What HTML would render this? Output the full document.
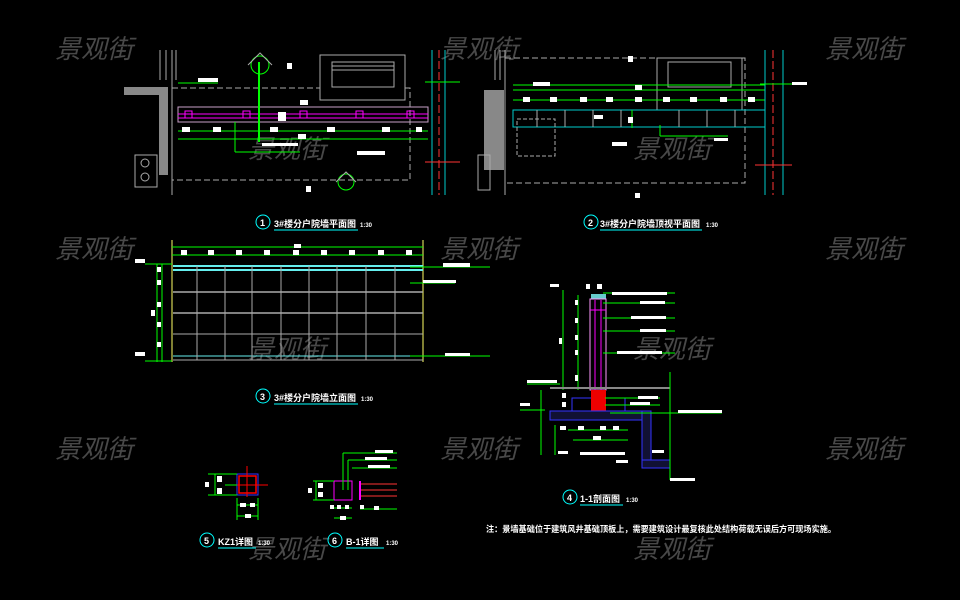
<!DOCTYPE html>
<html><head><meta charset="utf-8"><style>
html,body{margin:0;padding:0;background:#000;width:960px;height:600px;overflow:hidden}
svg{display:block}
.t{font-family:"Liberation Sans","Noto Sans CJK SC",sans-serif;fill:#fff;font-weight:bold}
.wm{font-family:"Liberation Sans","Noto Sans CJK SC",sans-serif;fill:#5a5a5a;font-size:26px;font-style:italic;opacity:.8}
</style></head><body>
<svg width="960" height="600" viewBox="0 0 960 600" xmlns="http://www.w3.org/2000/svg">
<rect width="960" height="600" fill="#000"/>
<g class="wm">
<text x="55" y="58">景观街</text><text x="440" y="58">景观街</text><text x="825" y="58">景观街</text>
<text x="248" y="158">景观街</text><text x="633" y="158">景观街</text>
<text x="55" y="258">景观街</text><text x="440" y="258">景观街</text><text x="825" y="258">景观街</text>
<text x="248" y="358">景观街</text><text x="633" y="358">景观街</text>
<text x="55" y="458">景观街</text><text x="440" y="458">景观街</text><text x="825" y="458">景观街</text>
<text x="248" y="558">景观街</text><text x="633" y="558">景观街</text>
</g>

<!-- PLAN 1 -->
<g fill="none" stroke-width="1">
<rect x="124" y="87" width="44" height="8" fill="#888"/>
<rect x="159" y="87" width="9" height="88" fill="#888"/>
<line x1="172" y1="50" x2="172" y2="195" stroke="#aaa"/>
<line x1="160" y1="50" x2="160" y2="80" stroke="#aaa"/><line x1="166" y1="50" x2="166" y2="80" stroke="#aaa"/><line x1="176" y1="50" x2="176" y2="80" stroke="#aaa"/>
<rect x="135" y="155" width="22" height="32" stroke="#aaa"/>
<circle cx="145" cy="163" r="4" stroke="#aaa"/><circle cx="145" cy="177" r="4" stroke="#aaa"/>
<path d="M172 88 H320 M405 88 H410 V180 H172" stroke="#aaa" stroke-dasharray="6 3"/>
<rect x="320" y="55" width="85" height="45" stroke="#aaa"/>
<rect x="332" y="62" width="62" height="25" stroke="#aaa"/>
<line x1="332" y1="66" x2="394" y2="66" stroke="#aaa"/><line x1="332" y1="70" x2="394" y2="70" stroke="#aaa"/>
<rect x="178" y="107" width="250" height="15" stroke="#c8a0c8"/>
<line x1="178" y1="114" x2="428" y2="114" stroke="#f0f"/>
<line x1="178" y1="118" x2="428" y2="118" stroke="#f0f"/>
<g stroke="#f0f"><rect x="185" y="111" width="7" height="7"/><rect x="243" y="111" width="7" height="7"/><rect x="300" y="111" width="7" height="7"/><rect x="356" y="111" width="7" height="7"/><rect x="407" y="111" width="7" height="7"/></g>
<line x1="178" y1="131" x2="428" y2="131" stroke="#0f0"/>
<line x1="178" y1="139" x2="428" y2="139" stroke="#0f0"/>
<line x1="178" y1="83" x2="218" y2="83" stroke="#0f0"/>
<line x1="259" y1="62" x2="259" y2="142" stroke="#0f0" stroke-width="2"/>
<circle cx="260" cy="65" r="9" stroke="#0f0"/>
<path d="M248 65 L260 53 L272 65" stroke="#aaa"/>
<circle cx="346" cy="182" r="8" stroke="#0f0"/>
<path d="M336 182 L346 172 L356 182" stroke="#aaa"/>
<line x1="235" y1="152" x2="300" y2="152" stroke="#0f0"/>
<line x1="235" y1="122" x2="235" y2="152" stroke="#0f0"/>
<line x1="432" y1="50" x2="432" y2="195" stroke="#0cc"/><line x1="445" y1="50" x2="445" y2="195" stroke="#0cc"/>
<line x1="439" y1="50" x2="439" y2="195" stroke="#f33" stroke-dasharray="8 3"/>
<line x1="425" y1="82" x2="460" y2="82" stroke="#0f0"/>
<line x1="425" y1="162" x2="460" y2="162" stroke="#f33"/>
</g>
<g fill="#fff">
<rect x="198" y="78" width="20" height="4"/><rect x="287" y="63" width="5" height="6"/><rect x="300" y="100" width="8" height="5"/>
<rect x="278" y="112" width="8" height="9"/><rect x="182" y="127" width="8" height="5"/><rect x="213" y="127" width="8" height="5"/><rect x="270" y="127" width="8" height="5"/><rect x="327" y="127" width="8" height="5"/><rect x="382" y="127" width="8" height="5"/><rect x="416" y="127" width="6" height="5"/>
<rect x="298" y="134" width="8" height="5"/><rect x="357" y="151" width="28" height="4"/><rect x="306" y="186" width="5" height="6"/><rect x="262" y="143" width="36" height="3"/>
</g>
<circle cx="263" cy="222" r="7" stroke="#0ff" fill="none"/>
<text x="260" y="226" class="t" font-size="9">1</text>
<text x="274" y="227" class="t" font-size="9">3#楼分户院墙平面图</text>
<text x="360" y="227" class="t" font-size="6">1:30</text>
<line x1="274" y1="230" x2="358" y2="230" stroke="#0ff"/>

<!-- PLAN 2 -->
<g fill="none">
<rect x="484" y="90" width="20" height="80" fill="#888"/>
<rect x="478" y="155" width="12" height="35" stroke="#aaa"/>
<line x1="505" y1="50" x2="505" y2="195" stroke="#aaa"/><line x1="495" y1="50" x2="495" y2="80" stroke="#aaa"/><line x1="500" y1="50" x2="500" y2="80" stroke="#aaa"/>
<path d="M505 58 H657 M742 58 H745 V183 H505" stroke="#aaa" stroke-dasharray="6 3"/>
<rect x="657" y="58" width="85" height="52" stroke="#aaa"/>
<rect x="668" y="62" width="63" height="25" stroke="#aaa"/>
<line x1="513" y1="85" x2="765" y2="85" stroke="#0f0"/>
<line x1="513" y1="90" x2="765" y2="90" stroke="#0f0"/>
<line x1="513" y1="100" x2="765" y2="100" stroke="#0f0"/>
<rect x="513" y="110" width="252" height="17" stroke="#0cc"/>
<g stroke="#aaa"><line x1="537" y1="110" x2="537" y2="127"/><line x1="565" y1="110" x2="565" y2="127"/><line x1="593" y1="110" x2="593" y2="127"/><line x1="621" y1="110" x2="621" y2="127"/><line x1="679" y1="110" x2="679" y2="127"/><line x1="707" y1="110" x2="707" y2="127"/><line x1="735" y1="110" x2="735" y2="127"/></g>
<rect x="517" y="119" width="38" height="37" stroke="#aaa" stroke-dasharray="4 2"/>
<line x1="632" y1="110" x2="632" y2="128" stroke="#0f0"/>
<line x1="660" y1="125" x2="660" y2="136" stroke="#0f0"/><line x1="660" y1="136" x2="728" y2="136" stroke="#0f0"/>
<line x1="765" y1="50" x2="765" y2="195" stroke="#0cc"/><line x1="783" y1="50" x2="783" y2="195" stroke="#0cc"/>
<line x1="773" y1="50" x2="773" y2="195" stroke="#f33" stroke-dasharray="8 3"/>
<line x1="755" y1="165" x2="792" y2="165" stroke="#f33"/>
<line x1="760" y1="84" x2="800" y2="84" stroke="#0f0"/>
</g>
<g fill="#fff">
<rect x="533" y="82" width="17" height="4"/><rect x="628" y="56" width="5" height="6"/><rect x="635" y="85" width="7" height="5"/>
<rect x="523" y="97" width="7" height="5"/><rect x="550" y="97" width="7" height="5"/><rect x="580" y="97" width="7" height="5"/><rect x="606" y="97" width="7" height="5"/><rect x="635" y="97" width="7" height="5"/><rect x="663" y="97" width="7" height="5"/><rect x="690" y="97" width="7" height="5"/><rect x="720" y="97" width="7" height="5"/><rect x="748" y="97" width="7" height="5"/>
<rect x="594" y="115" width="9" height="4"/><rect x="628" y="117" width="5" height="6"/><rect x="612" y="142" width="15" height="4"/><rect x="714" y="138" width="14" height="3"/><rect x="635" y="193" width="5" height="5"/><rect x="792" y="82" width="15" height="3"/>
</g>
<circle cx="591" cy="222" r="7" stroke="#0ff" fill="none"/>
<text x="588" y="226" class="t" font-size="9">2</text>
<text x="600" y="227" class="t" font-size="9">3#楼分户院墙顶视平面图</text>
<text x="706" y="227" class="t" font-size="6">1:30</text>
<line x1="600" y1="230" x2="702" y2="230" stroke="#0ff"/>

<!-- ELEVATION 3 -->
<g fill="none">
<line x1="172" y1="240" x2="172" y2="362" stroke="#ff6"/>
<line x1="423" y1="240" x2="423" y2="362" stroke="#ff6"/>
<line x1="172" y1="247" x2="423" y2="247" stroke="#0f0"/>
<line x1="172" y1="255" x2="423" y2="255" stroke="#0f0"/>
<line x1="173" y1="266" x2="423" y2="266" stroke="#6ee" stroke-width="2"/>
<line x1="173" y1="270" x2="423" y2="270" stroke="#6ee" stroke-width="2"/>
<line x1="173" y1="292" x2="423" y2="292" stroke="#aaa" stroke-width="1.5"/>
<line x1="173" y1="313" x2="423" y2="313" stroke="#aaa" stroke-width="1.5"/>
<line x1="173" y1="334" x2="423" y2="334" stroke="#aaa"/>
<line x1="173" y1="356" x2="423" y2="356" stroke="#6ee"/>
<line x1="173" y1="360" x2="423" y2="360" stroke="#aaa"/>
<g stroke="#aaa"><line x1="197" y1="266" x2="197" y2="360"/><line x1="225" y1="266" x2="225" y2="360"/><line x1="252" y1="266" x2="252" y2="360"/><line x1="281" y1="266" x2="281" y2="360"/><line x1="309" y1="266" x2="309" y2="360"/><line x1="337" y1="266" x2="337" y2="360"/><line x1="366" y1="266" x2="366" y2="360"/><line x1="395" y1="266" x2="395" y2="360"/></g>
<line x1="157" y1="264" x2="157" y2="362" stroke="#0f0"/>
<line x1="162" y1="264" x2="162" y2="362" stroke="#0f0"/>
<line x1="145" y1="264" x2="172" y2="264" stroke="#0f0"/>
<line x1="145" y1="361" x2="172" y2="361" stroke="#0f0"/>
<line x1="410" y1="267" x2="490" y2="267" stroke="#0f0"/>
<line x1="410" y1="283" x2="455" y2="283" stroke="#0f0"/>
<line x1="410" y1="356" x2="490" y2="356" stroke="#0f0"/>
</g>
<g fill="#fff">
<rect x="294" y="244" width="7" height="4"/>
<rect x="181" y="250" width="6" height="5"/><rect x="208" y="250" width="6" height="5"/><rect x="236" y="250" width="6" height="5"/><rect x="264" y="250" width="6" height="5"/><rect x="293" y="250" width="6" height="5"/><rect x="321" y="250" width="6" height="5"/><rect x="349" y="250" width="6" height="5"/><rect x="378" y="250" width="6" height="5"/><rect x="406" y="250" width="6" height="5"/>
<rect x="135" y="259" width="10" height="4"/><rect x="135" y="352" width="10" height="4"/>
<rect x="157" y="267" width="4" height="5"/><rect x="157" y="280" width="4" height="5"/><rect x="157" y="302" width="4" height="5"/><rect x="157" y="322" width="4" height="5"/><rect x="157" y="342" width="4" height="5"/><rect x="151" y="310" width="4" height="6"/>
<rect x="443" y="263" width="27" height="4"/><rect x="423" y="280" width="33" height="3"/><rect x="445" y="353" width="25" height="3"/>
</g>
<circle cx="263" cy="396" r="7" stroke="#0ff" fill="none"/>
<text x="260" y="400" class="t" font-size="9">3</text>
<text x="274" y="401" class="t" font-size="9">3#楼分户院墙立面图</text>
<text x="361" y="401" class="t" font-size="6">1:30</text>
<line x1="274" y1="404" x2="358" y2="404" stroke="#0ff"/>

<!-- SECTION 4 -->
<g fill="none">
<rect x="591" y="294" width="15" height="5" fill="#6cc"/>
<rect x="590" y="299" width="16" height="91" stroke="#f9f"/>
<line x1="595" y1="300" x2="595" y2="390" stroke="#f0f"/><line x1="601" y1="300" x2="601" y2="390" stroke="#f0f"/>
<line x1="590" y1="310" x2="606" y2="310" stroke="#f0f"/>
<line x1="563" y1="290" x2="563" y2="390" stroke="#0f0"/>
<line x1="578" y1="295" x2="578" y2="390" stroke="#0f0"/>
<line x1="550" y1="388" x2="670" y2="388" stroke="#888" stroke-width="2"/>
<rect x="572" y="398" width="53" height="13" stroke="#33f"/>
<rect x="591" y="390" width="15" height="22" fill="#e00"/>
<path d="M550 411 H650 V468 H642" stroke="#33f" fill="none"/>
<rect x="550" y="411" width="100" height="9" fill="#113" stroke="#33f"/>
<rect x="642" y="411" width="9" height="55" fill="#113" stroke="#33f"/>
<rect x="642" y="460" width="28" height="8" fill="#113" stroke="#33f"/>
<g stroke="#0f0">
<line x1="603" y1="293" x2="675" y2="293"/><line x1="603" y1="303" x2="675" y2="303"/><line x1="603" y1="318" x2="675" y2="318"/><line x1="603" y1="331" x2="675" y2="331"/><line x1="603" y1="353" x2="675" y2="353"/>
<line x1="605" y1="398" x2="660" y2="398"/><line x1="605" y1="405" x2="660" y2="405"/><line x1="610" y1="413" x2="722" y2="413"/>
<line x1="670" y1="372" x2="670" y2="480"/>
<line x1="555" y1="425" x2="555" y2="455"/><line x1="568" y1="430" x2="628" y2="430"/><line x1="573" y1="440" x2="628" y2="440"/>
<line x1="541" y1="390" x2="541" y2="455"/>
<line x1="527" y1="384" x2="560" y2="384"/><line x1="520" y1="410" x2="545" y2="410"/>
</g>
</g>
<g fill="#fff">
<rect x="550" y="284" width="9" height="3"/><rect x="597" y="284" width="5" height="5"/><rect x="586" y="284" width="4" height="5"/>
<rect x="612" y="292" width="55" height="3"/><rect x="640" y="301" width="25" height="3"/><rect x="631" y="316" width="35" height="3"/><rect x="640" y="329" width="26" height="3"/><rect x="617" y="351" width="45" height="3"/>
<rect x="575" y="300" width="3" height="5"/><rect x="575" y="318" width="3" height="5"/><rect x="575" y="335" width="3" height="5"/><rect x="575" y="350" width="3" height="5"/><rect x="575" y="375" width="3" height="6"/><rect x="559" y="338" width="3" height="6"/>
<rect x="527" y="380" width="30" height="3"/><rect x="520" y="403" width="10" height="3"/>
<rect x="562" y="393" width="4" height="5"/><rect x="562" y="402" width="4" height="5"/>
<rect x="638" y="396" width="20" height="3"/><rect x="630" y="402" width="20" height="3"/><rect x="678" y="410" width="44" height="3"/>
<rect x="560" y="426" width="6" height="4"/><rect x="578" y="426" width="6" height="4"/><rect x="600" y="426" width="6" height="4"/><rect x="613" y="426" width="6" height="4"/>
<rect x="593" y="436" width="8" height="4"/><rect x="558" y="451" width="10" height="3"/><rect x="580" y="452" width="45" height="3"/><rect x="616" y="460" width="12" height="3"/><rect x="652" y="450" width="12" height="3"/><rect x="670" y="478" width="25" height="3"/>
</g>
<circle cx="570" cy="497" r="7" stroke="#0ff" fill="none"/>
<text x="567" y="501" class="t" font-size="9">4</text>
<text x="580" y="502" class="t" font-size="9">1-1剖面图</text>
<text x="626" y="502" class="t" font-size="6">1:30</text>
<line x1="580" y1="505" x2="623" y2="505" stroke="#0ff"/>

<text x="486" y="532" class="t" font-size="8.5" textLength="350" lengthAdjust="spacingAndGlyphs">注：景墙基础位于建筑风井基础顶板上，需要建筑设计最复核此处结构荷载无误后方可现场实施。</text>

<!-- DETAIL 5 -->
<g fill="none">
<rect x="237" y="474" width="21" height="21" stroke="#33f"/>
<rect x="239" y="476" width="17" height="17" stroke="#f00" stroke-width="1.5"/>
<line x1="247" y1="466" x2="247" y2="497" stroke="#f00"/><line x1="232" y1="485" x2="268" y2="485" stroke="#f00"/>
<g stroke="#0f0"><line x1="208" y1="474" x2="237" y2="474"/><line x1="208" y1="495" x2="237" y2="495"/><line x1="215" y1="474" x2="215" y2="495"/><line x1="225" y1="485" x2="237" y2="485"/>
<line x1="237" y1="498" x2="237" y2="520"/><line x1="258" y1="498" x2="258" y2="520"/><line x1="237" y1="505" x2="258" y2="505"/><line x1="237" y1="516" x2="258" y2="516"/></g>
</g>
<g fill="#fff"><rect x="217" y="476" width="5" height="6"/><rect x="217" y="488" width="5" height="6"/><rect x="205" y="482" width="4" height="5"/><rect x="240" y="503" width="6" height="4"/><rect x="250" y="503" width="5" height="4"/><rect x="245" y="514" width="6" height="4"/></g>
<circle cx="207" cy="540" r="7" stroke="#0ff" fill="none"/>
<text x="204" y="544" class="t" font-size="9">5</text>
<text x="218" y="545" class="t" font-size="9">KZ1详图</text>
<text x="258" y="545" class="t" font-size="6">1:30</text>
<line x1="218" y1="548" x2="256" y2="548" stroke="#0ff"/>

<!-- DETAIL 6 -->
<g fill="none">
<rect x="334" y="481" width="18" height="19" stroke="#f0f"/>
<g stroke="#f33"><line x1="360" y1="484" x2="397" y2="484"/><line x1="360" y1="490" x2="397" y2="490"/><line x1="360" y1="496" x2="397" y2="496"/></g>
<line x1="360" y1="481" x2="360" y2="500" stroke="#f0f" stroke-width="2"/>
<g stroke="#0f0"><line x1="343" y1="453" x2="397" y2="453"/><line x1="343" y1="453" x2="343" y2="490"/><line x1="348" y1="460" x2="397" y2="460"/><line x1="348" y1="460" x2="348" y2="490"/><line x1="352" y1="468" x2="397" y2="468"/>
<line x1="313" y1="481" x2="334" y2="481"/><line x1="313" y1="500" x2="334" y2="500"/><line x1="316" y1="481" x2="316" y2="500"/>
<line x1="334" y1="508" x2="352" y2="508"/><line x1="334" y1="518" x2="352" y2="518"/><line x1="360" y1="509" x2="397" y2="509"/></g>
</g>
<g fill="#fff"><rect x="375" y="450" width="18" height="3"/><rect x="365" y="457" width="22" height="3"/><rect x="368" y="465" width="22" height="3"/><rect x="318" y="483" width="5" height="5"/><rect x="318" y="492" width="5" height="5"/><rect x="308" y="488" width="4" height="5"/><rect x="330" y="505" width="4" height="4"/><rect x="337" y="505" width="4" height="4"/><rect x="345" y="505" width="4" height="4"/><rect x="360" y="505" width="4" height="4"/><rect x="340" y="516" width="6" height="4"/><rect x="374" y="506" width="5" height="4"/></g>
<circle cx="335" cy="540" r="7" stroke="#0ff" fill="none"/>
<text x="332" y="544" class="t" font-size="9">6</text>
<text x="346" y="545" class="t" font-size="9">B-1详图</text>
<text x="386" y="545" class="t" font-size="6">1:30</text>
<line x1="346" y1="548" x2="384" y2="548" stroke="#0ff"/>
</svg>
</body></html>
